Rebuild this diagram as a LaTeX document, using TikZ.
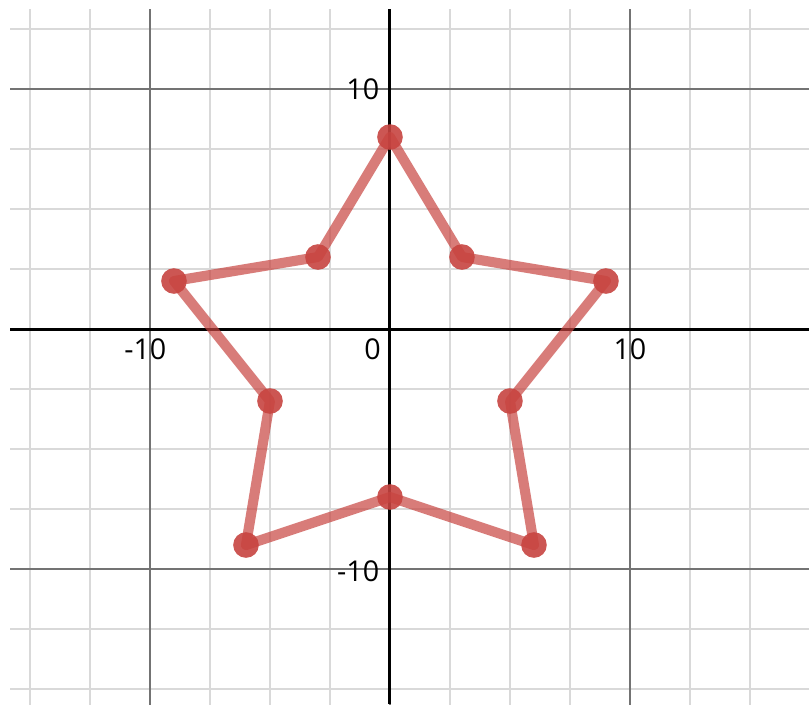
\documentclass[tikz,border=0pt]{standalone}
\usepackage{fontspec}
\setmainfont{Open Sans}
\usepackage{xcolor}
\usepackage{tikz}

\definecolor{starred}{HTML}{C74440}
\tikzset{
  minorline/.style={color=black!15, line width=0.45pt},
  majorline/.style={color=black!55, line width=0.6pt},
  axisline/.style={color=black, line width=0.9pt},
  edge/.style={starred, opacity=0.7, line width=3pt, line join=round},
  dot/.style={circle, fill=starred, fill opacity=0.9, inner sep=0pt, minimum size=7.6pt},
  ticklabel/.style={font=\fontsize{8.5}{10}\selectfont, inner sep=0pt}
}

\begin{document}
\begin{tikzpicture}[x=0.25cm, y=0.25cm]
\useasboundingbox (-16.25,-15.63) rectangle (17.46,13.71);
\begin{scope}
\clip (-15.83,-15.63) rectangle (17.46,13.33);
\draw[minorline, step=2.5] (-17.5,-17.5) grid (17.5,15);
\draw[majorline, step=10] (-17.5,-17.5) grid (17.5,15);
\draw[axisline] (-15.83,0) -- (17.46,0);
\draw[axisline] (0,-15.63) -- (0,13.33);
\end{scope}

\node[ticklabel] (xm10) at (-10,-0.85) {\llap{-}10};
\node[ticklabel, anchor=east] (x0) at (-0.36,-0.85) {0};
\node[ticklabel] (xp10) at (10,-0.85) {10};
\node[ticklabel, anchor=east] (yp10) at (-0.42,10) {10};
\node[ticklabel, anchor=east] (ym10) at (-0.42,-10.08) {-10};

\coordinate (top) at (0,8);
\coordinate (innerNE) at (3,3);
\coordinate (tipE) at (9,2);
\coordinate (innerSE) at (5,-3);
\coordinate (tipSE) at (6,-9);
\coordinate (innerS) at (0,-7);
\coordinate (tipSW) at (-6,-9);
\coordinate (innerSW) at (-5,-3);
\coordinate (tipW) at (-9,2);
\coordinate (innerNW) at (-3,3);
\draw[edge] (top) -- (innerNE) -- (tipE) -- (innerSE) -- (tipSE) -- (innerS) -- (tipSW) -- (innerSW) -- (tipW) -- (innerNW) -- cycle;
\foreach \p in {top, innerNE, tipE, innerSE, tipSE, innerS, tipSW, innerSW, tipW, innerNW}
  \node[dot] (dot-\p) at (\p) {};
\end{tikzpicture}
\end{document}
